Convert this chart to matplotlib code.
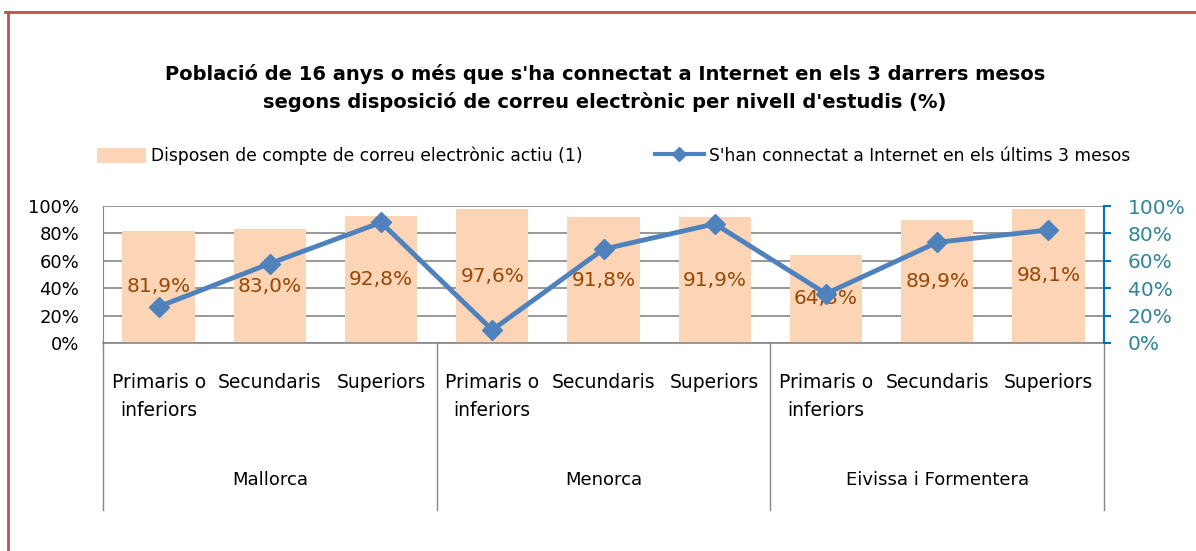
import matplotlib
matplotlib.use("Agg")
import matplotlib.pyplot as plt
from matplotlib.lines import Line2D
from matplotlib.patches import Patch
from matplotlib.ticker import FuncFormatter

plt.rcParams['font.family'] = ['DejaVu Sans']

# data
groups = ['Mallorca', 'Menorca', 'Eivissa i Formentera']
levels = ['Primaris o\ninferiors', 'Secundaris', 'Superiors']
email_pct = [81.9, 83.0, 92.8, 97.6, 91.8, 91.9, 64.3, 89.9, 98.1]
internet_pct = [26.5, 58.0, 88.0, 9.5, 68.5, 87.0, 36.0, 73.5, 82.5]
yticks = [0, 20, 40, 60, 80, 100]

title = ("Població de 16 anys o més que s'ha connectat a Internet en els 3 darrers mesos\n"
         "segons disposició de correu electrònic per nivell d'estudis (%)")
bar_name = "Disposen de compte de correu electrònic actiu (1)"
line_name = "S'han connectat a Internet en els últims 3 mesos"

bar_color = '#FBD5B5'
label_color = '#984807'
line_color = '#4F81BD'
grid_color = '#868686'

fig = plt.figure(figsize=(11.96, 5.51), dpi=100)
ax = fig.add_axes([0.0861, 0.3775, 0.837, 0.2486])
ax2 = ax.twinx()

x = list(range(len(email_pct)))
ax.bar(x, email_pct, width=0.65, color=bar_color, zorder=2)
for xi, v in zip(x, email_pct):
    ax.text(xi, v / 2, f"{v:.1f}%".replace('.', ','), ha='center', va='center',
            fontsize=14.5, color=label_color, zorder=3)

ax.set_xlim(-0.5, len(x) - 0.5)
ax.set_ylim(0, 100)
ax.set_yticks(yticks)
ax.yaxis.set_major_formatter(FuncFormatter(lambda v, p: f"{v:.0f}%"))
ax.grid(axis='y', color=grid_color, linewidth=1.2, zorder=0)
ax.set_axisbelow(True)
ax.tick_params(axis='y', length=0, pad=17, labelsize=13)
ax.set_xticks([])
for side in ['top', 'right']:
    ax.spines[side].set_visible(False)
ax.spines['left'].set_color(grid_color)
ax.spines['bottom'].set_color(grid_color)
ax.spines['bottom'].set_linewidth(1.2)

ax2.plot(x, internet_pct, color=line_color, linewidth=3.5, marker='D',
         markersize=10, zorder=4)
ax2.set_ylim(0, 100)
ax2.set_yticks(yticks)
ax2.yaxis.set_major_formatter(FuncFormatter(lambda v, p: f"{v:.0f}%"))
ax2.tick_params(axis='y', direction='out', length=5, width=1.5, color='#0070C0',
                labelcolor='#31849B', labelsize=14.5, pad=12)
for side in ['top', 'left', 'bottom']:
    ax2.spines[side].set_visible(False)
ax2.spines['right'].set_color('#0070C0')
ax2.spines['right'].set_linewidth(1.5)

# multi-level category axis
trans = ax.get_xaxis_transform()
for xi in x:
    ax.text(xi, -0.22, levels[xi % 3], transform=trans, ha='center', va='top',
            fontsize=13.5, linespacing=1.6, multialignment='center')
for gi, g in enumerate(groups):
    ax.text(gi * 3 + 1, -1.0, g, transform=trans, ha='center', va='center', fontsize=13)
for b in [-0.5, 2.5, 5.5, 8.5]:
    ax.plot([b, b], [0, -1.22], transform=trans, color=grid_color, linewidth=1,
            clip_on=False)

fig.text(0.506, 0.84, title, ha='center', va='center', fontsize=14,
         fontweight='bold', linespacing=1.5)

handles = [Patch(facecolor=bar_color, edgecolor='none'),
           Line2D([0], [0], color=line_color, linewidth=3, marker='D', markersize=7)]
fig.legend(handles, [bar_name, line_name], loc='center', bbox_to_anchor=(0.513, 0.717),
           ncol=2, frameon=False, fontsize=12.3, handlelength=2.9, handleheight=1.0,
           columnspacing=4.2, handletextpad=0.3)

# chart-area border
fig.add_artist(Line2D([0.007, 0.007], [0, 0.978], color='#C0504D', linewidth=2))
fig.add_artist(Line2D([0.004, 1.0], [0.978, 0.978], color='#C0504D', linewidth=2))

fig.savefig('out.png', dpi=100)
